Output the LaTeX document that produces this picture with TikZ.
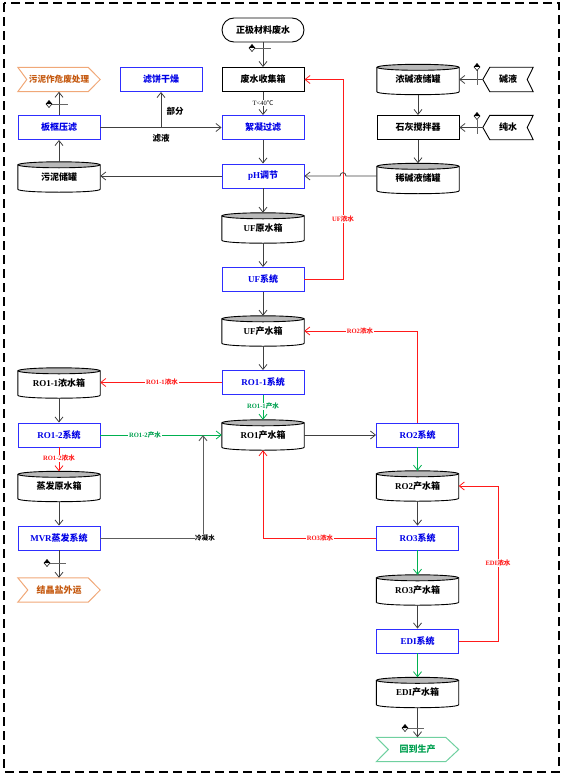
\documentclass[tikz,border=0pt]{standalone}
\usepackage{fontspec}
\setmainfont{Liberation Serif}
\newfontfamily\cjk{Noto Sans CJK SC}
\usetikzlibrary{arrows.meta,calc}
\definecolor{lineg}{HTML}{404040}
\definecolor{bluebd}{HTML}{2E2EFF}
\definecolor{bluetx}{HTML}{0000E6}
\definecolor{redl}{HTML}{FF1A1A}
\definecolor{greenl}{HTML}{00B050}
\definecolor{greentx}{HTML}{00A050}
\definecolor{orangetx}{HTML}{C55A11}
\definecolor{orangebd}{HTML}{F0A878}
\definecolor{greenbd}{HTML}{70D0A0}
\tikzset{
  mainfont/.style={font=\bfseries\fontsize{9}{10}\selectfont},
  box/.style={draw=black, line width=0.9pt, minimum width=82pt, minimum height=24pt, inner sep=0pt, mainfont},
  bluebox/.style={box, draw=bluebd, text=bluetx},
  cylnode/.style={minimum width=82pt, minimum height=30pt, inner sep=0pt, mainfont},
  chev/.style={minimum height=24pt, inner sep=0pt, mainfont},
  arr/.style={draw=lineg, line width=0.8pt, -{Straight Barb[length=5pt,width=8pt]}},
  redarr/.style={arr, draw=redl},
  greenarr/.style={arr, draw=greenl},
  lbl/.style={font=\bfseries\fontsize{6.6}{7}\selectfont, inner sep=0.6pt, fill=white},
  biglbl/.style={font=\bfseries\fontsize{8.5}{9}\selectfont, inner sep=0pt},
  frame/.style={line width=1.3pt, dash pattern=on 9pt off 5pt},
}
% cylinder tank: name, x, y, text
\newcommand\tank[4]{%
  \node[cylnode] (#1) at (#2,#3) {#4};
  \draw[line width=0.9pt] ($(#1.north west)+(0,3)$) -- ($(#1.south west)+(0,-3)$)
     .. controls ($(#1.south west)+(0,1)$) and ($(#1.south east)+(0,1)$) .. ($(#1.south east)+(0,-3)$)
     -- ($(#1.north east)+(0,3)$);
  \draw[line width=0.9pt, fill=gray!55] ($(#1.north)+(0,3)$) ellipse [x radius=41, y radius=3];
}
% right-pointing chevron: name, x, y, width, tip, notch, border colour, text colour, text
\newcommand\chevR[9]{%
  \node[chev, minimum width=#4pt, text=#8] (#1) at (#2,#3) {#9};
  \draw[line width=1pt, draw=#7] (#1.north west) -- ($(#1.north east)+(-#5,0)$) -- (#1.east)
     -- ($(#1.south east)+(-#5,0)$) -- (#1.south west) -- ($(#1.west)+(#6,0)$) -- cycle;
}
% left-pointing chevron: name, x, y, width, tip, notch, text
\newcommand\chevL[7]{%
  \node[chev, minimum width=#4pt] (#1) at (#2,#3) {#7};
  \draw[line width=0.9pt] (#1.west) -- ($(#1.north west)+(#5,0)$) -- (#1.north east)
     -- ($(#1.east)+(-#6,0)$) -- (#1.south east) -- ($(#1.south west)+(#5,0)$) -- cycle;
}
\newcommand\dmd[2]{%
  \draw[fill=white, line width=0.5pt] (#1,#2-3.5) -- (#1+3,#2) -- (#1,#2+3.5) -- (#1-3,#2) -- cycle;
  \fill (#1-3,#2) -- (#1,#2-3.5) -- (#1+3,#2) -- cycle;
}
\newcommand\markH[2]{%
  \draw[lineg!80, line width=0.9pt] (#1+3,#2) -- (#1+19,#2);
  \dmd{#1}{#2}
}
\newcommand\markV[2]{%
  \draw[lineg!80, line width=0.9pt] (#1,#2+3.5) -- (#1,#2+18);
  \dmd{#1}{#2}
}
\begin{document}
\begin{tikzpicture}[x=1pt,y=-1pt]
\useasboundingbox (0,0) rectangle (567,776);
\draw[frame] (4,3) rectangle (559,772);

% ---- centre column ----
\node[box, rounded corners=12pt] (src) at (263,30) {\cjk 正极材料废水};
\node[box] (collect) at (263,79.5) {\cjk 废水收集箱};
\node[bluebox] (floc) at (263,127.5) {\cjk 絮凝过滤};
\node[bluebox] (ph) at (263,176) {pH\cjk 调节};
\tank{ufraw}{263}{228}{UF\cjk 原水箱}
\node[bluebox] (ufsys) at (263,279.5) {UF\cjk 系统};
\tank{ufprod}{263}{331}{UF\cjk 产水箱}
\node[bluebox] (ro11) at (263,382.5) {RO1-1\cjk 系统};
\tank{ro1prod}{263}{435}{RO1\cjk 产水箱}

% ---- left column ----
\chevR{sludgeout}{59}{79.5}{82}{12}{9}{orangebd}{orangetx}{\fontsize{8.6}{9}\selectfont\cjk 污泥作危废处理}
\node[bluebox] (cakedry) at (161,79.5) {\cjk 滤饼干燥};
\node[bluebox] (press) at (59,127.5) {\cjk 板框压滤};
\tank{sludgetank}{59}{177}{\cjk 污泥储罐}
\tank{ro11conc}{59}{383}{RO1-1\cjk 浓水箱}
\node[bluebox] (ro12) at (59,435) {RO1-2\cjk 系统};
\tank{evapraw}{59}{486.5}{\cjk 蒸发原水箱}
\node[bluebox] (mvr) at (59,538) {MVR\cjk 蒸发系统};
\chevR{salt}{59}{590}{82}{12}{10}{orangebd}{orangetx}{\cjk 结晶盐外运}

% ---- right column ----
\node[bluebox] (ro2) at (417.5,435) {RO2\cjk 系统};
\tank{ro2prod}{417.5}{486}{RO2\cjk 产水箱}
\node[bluebox] (ro3) at (417.5,538) {RO3\cjk 系统};
\tank{ro3prod}{417.5}{590}{RO3\cjk 产水箱}
\node[bluebox] (edi) at (417.5,641) {EDI\cjk 系统};
\tank{ediprod}{417.5}{692.5}{EDI\cjk 产水箱}
\chevR{back}{417.5}{749.5}{82}{13}{12}{greenbd}{greentx}{\cjk 回到生产}

% ---- dosing (top right) ----
\tank{conc}{418}{79.5}{\cjk 浓碱液储罐}
\node[box] (mix) at (418,127.5) {\cjk 石灰搅拌器};
\tank{dilute}{418}{178.5}{\cjk 稀碱液储罐}
\chevL{alkali}{508}{79.5}{50}{7}{6}{\cjk 碱液}
\chevL{water}{508}{127.5}{50}{7}{6}{\cjk 纯水}

\coordinate (ufx) at (343,0);
\coordinate (edix) at (498,0);
\coordinate (join) at (203,435);

% ---- main flow ----
\draw[arr] (src) -- (collect);
\markH{252}{48}
\draw[arr] (collect) -- (floc);
\node[lbl, font=\fontsize{6.5}{7}\selectfont] (tlabel) at (263,103) {T<40\cjk ℃};
\draw[arr] (floc) -- (ph);
\draw[arr] (ph) -- (ufraw);
\draw[arr] (ufraw) -- (ufsys);
\draw[arr] (ufsys) -- (ufprod);
\draw[arr] (ufprod) -- (ro11);
\draw[greenarr] (ro11) -- (ro1prod);
\node[lbl, text=greentx] (l1) at (263,406.5) {RO1-1\cjk 产水};
\draw[redarr] (ro11.west) -- (ro11.west -| ro11conc.east);
\node[lbl, text=redl] (l2) at (162,382.5) {RO1-1\cjk 浓水};
\draw[arr] (ro11conc) -- (ro12);
\draw[greenarr] (ro12.east) -- (ro1prod.west);
\node[lbl, text=greentx] (l3) at (145,435) {RO1-2\cjk 产水};
\draw[redarr] (ro12) -- (evapraw);
\node[lbl, text=redl] (l4) at (59,458.5) {RO1-2\cjk 浓水};
\draw[arr] (evapraw) -- (mvr);
\draw[arr, draw=lineg!85, line width=1pt] (mvr.east) -| (join);
\node[lbl] (l5) at (205,538) {\cjk 冷凝水};
\draw[arr] (mvr) -- (salt);
\markH{47}{563}
\draw[arr] (ro1prod.east) -- (ro2.west);
\draw[greenarr] (ro2) -- (ro2prod);
\draw[redarr] (ro2.north) |- (ufprod.east);
\node[lbl, text=redl] (l6) at (360,331) {RO2\cjk 浓水};
\draw[arr] (ro2prod) -- (ro3);
\draw[greenarr] (ro3) -- (ro3prod);
\draw[redarr] (ro3.west) -| (ro1prod.south);
\node[lbl, text=redl] (l7) at (320,538) {RO3\cjk 浓水};
\draw[arr] (ro3prod) -- (edi);
\draw[greenarr] (edi) -- (ediprod);
\draw[redarr] (edi.east) -- (edi.east -| edix) |- (ro2prod.east);
\node[lbl, text=redl] (l8) at (498,563) {EDI\cjk 浓水};
\draw[arr] (ediprod) -- (back);
\markH{405}{728}
\draw[redarr] (ufsys.east) -- (ufsys.east -| ufx) |- (collect.east);
\node[lbl, text=redl] (l9) at (343,219) {UF\cjk 浓水};

% ---- dosing ----
\draw[arr] (dilute.west |- ph.east) -- (346,176) .. controls (346,171.5) and (340,171.5) .. (340,176) -- (ph.east);
\draw[arr] (conc) -- (mix);
\draw[arr] (mix) -- (dilute);
\draw[arr] (alkali.west) -- (alkali.west -| conc.east);
\markV{477}{67}
\draw[arr] (water.west) -- (mix.east);
\markV{477}{116}

% ---- sludge ----
\draw[arr] (ph.west) -- (ph.west -| sludgetank.east);
\draw[arr] (sludgetank) -- (press);
\draw[arr] (press) -- (sludgeout);
\markH{49}{104}
\draw[arr] (press.east) -- (floc.west);
\draw[arr] (cakedry.south |- press.east) -- (cakedry.south);
\node[biglbl] (l10) at (161,138) {\cjk 滤液};
\node[biglbl] (l11) at (175,111) {\cjk 部分};
\end{tikzpicture}
\end{document}
